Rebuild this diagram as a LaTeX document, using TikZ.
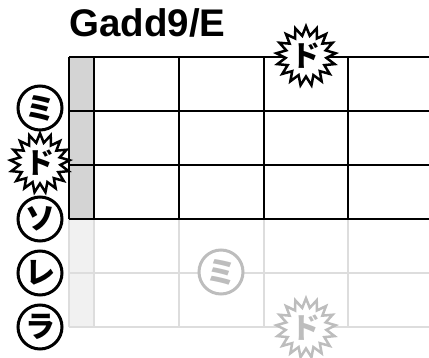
\documentclass[tikz,border=0pt]{standalone}
\usepackage{fontspec}
\setmainfont{Liberation Sans}
\newfontfamily\kanafont{Noto Sans CJK JP}
\usepackage{tikz}
\usetikzlibrary{shapes.geometric}
\definecolor{nutgray}{HTML}{D4D4D4}
\definecolor{nutpale}{HTML}{F1F1F1}
\definecolor{palegrid}{HTML}{DDDDDD}
\definecolor{ghost}{HTML}{BDBDBD}
\tikzset{kana/.style={circle,draw=#1,line width=3pt,fill=white,text=#1,minimum size=44pt,inner sep=0pt,font=\kanafont\bfseries\fontsize{30}{30}\selectfont},
  kana/.default=black,
  doburst/.style={star,star points=17,star point ratio=1.45,draw=#1,line width=2.5pt,fill=white,text=#1,minimum size=58pt,inner sep=0pt,font=\kanafont\bfseries\fontsize{29}{29}\selectfont},
  doburst/.default=black}

\begin{document}
\begin{tikzpicture}[x=1pt,y=-1pt]
\useasboundingbox (0,0) rectangle (429,358);
\node[anchor=base west,inner sep=0pt,font=\bfseries\fontsize{38.5}{38.5}\selectfont] (title) at (69,37) {Gadd9/E};
% lower strings (not played)
\fill[nutpale] (69,219) rectangle (94,327);
\foreach \y in {273,327}{\draw[palegrid,line width=2pt] (69,\y) -- (429,\y);}
\foreach \x in {69,94,179,264,348}{\draw[palegrid,line width=2pt] (\x,219) -- (\x,327);}
% upper strings
\fill[nutgray] (69,57) rectangle (94,219);
\foreach \y in {57,111,165,219}{\draw[line width=2pt] (69,\y) -- (429,\y);}
\foreach \x in {69,94,179,264,348}{\draw[line width=2pt] (\x,57) -- (\x,219);}
% open strings
\node[kana] (mi) at (40,108) {ミ};
\node[doburst] (do) at (40,163) {ド};
\node[kana] (so) at (40,219) {ソ};
\node[kana] (re) at (40,273) {レ};
\node[kana] (ra) at (40,327) {ラ};
% fretted
\node[doburst] (dotop) at (306,56) {ド};
\node[kana=ghost] (mighost) at (221,272) {ミ};
\node[doburst=ghost] (doghost) at (306,328) {ド};
\end{tikzpicture}
\end{document}
